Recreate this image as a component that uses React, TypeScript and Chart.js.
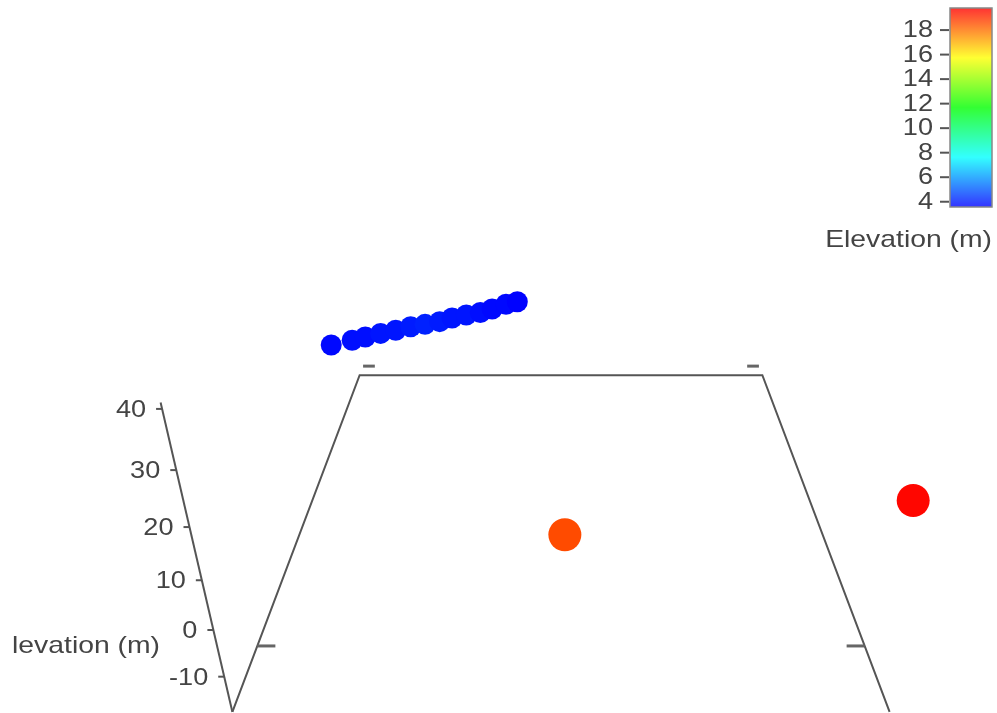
import React, { useEffect, useRef } from "react";
import { Chart, registerables } from "chart.js";

Chart.register(...registerables);

// ---------- data ----------
const easting = [-0.96, -0.88, -0.83, -0.77, -0.71, -0.65, -0.59, -0.53, -0.48, -0.42, -0.36, -0.31, -0.25, -0.2, 0.01, 0.95];
const northing = [0.57, 0.61, 0.64, 0.67, 0.7, 0.73, 0.75, 0.78, 0.82, 0.85, 0.88, 0.92, 0.97, 1.0, -1.0, -0.88];
const elevation = [3.7, 3.8, 3.8, 3.9, 3.9, 4.0, 4.1, 4.0, 3.9, 3.9, 3.8, 3.7, 3.7, 3.6, 18.6, 19.7];

const zTickVals = [-10, 0, 10, 20, 30, 40];
const yTickVals = [-0.74, 1.09];
const colorTickVals = [4, 6, 8, 10, 12, 14, 16, 18];

const xRange = [-0.96, 0.96];
const yRange = [-1, 1];
const zRange = [-18, 41];
const colorRange = [3.57, 19.8];

const zTitle = "Elevation (m)";
const colorTitle = "Elevation (m)";

// ---------- view / layout ----------
const W = 997;
const H = 713;
const CAM = { f: 954, pitch: (28.3 * Math.PI) / 180, cx: 561, cy: 356, dist: 2.961, height: 2.237, zScale: 0.01787 };
const FONT = '24px "Liberation Sans", Arial, sans-serif';
const TICK_STRETCH = 1.13;
const TITLE_STRETCH = 1.18;
const TEXT_COLOR = "#444";
const LINE_COLOR = "#555";

function project(x: number, y: number, z: number) {
  const s = Math.sin(CAM.pitch);
  const c = Math.cos(CAM.pitch);
  const h = (z - zRange[0]) * CAM.zScale;
  const w = y + CAM.dist;
  const zc = w * c + (CAM.height - h) * s;
  const yc = w * s + (h - CAM.height) * c;
  return { x: CAM.cx + (CAM.f * x) / zc, y: CAM.cy - (CAM.f * yc) / zc };
}

function frac(v: number) {
  return (v - colorRange[0]) / (colorRange[1] - colorRange[0]);
}
function colorFor(v: number, light = 50) {
  const f = Math.min(1, Math.max(0, frac(v)));
  return `hsl(${240 * (1 - f)}, 100%, ${light}%)`;
}

function drawText(ctx: CanvasRenderingContext2D, text: string, x: number, y: number, align: CanvasTextAlign, stretch = TICK_STRETCH) {
  ctx.save();
  ctx.translate(x, y);
  ctx.scale(stretch, 1);
  ctx.font = FONT;
  ctx.fillStyle = TEXT_COLOR;
  ctx.textAlign = align;
  ctx.textBaseline = "alphabetic";
  ctx.fillText(text, 0, 0);
  ctx.restore();
}

const decorPlugin = {
  id: "decor3d",
  afterDatasetsDraw(chart: any) {
    const ctx: CanvasRenderingContext2D = chart.ctx;
    const sx = chart.scales.x;
    const sy = chart.scales.y;
    const px = (p: { x: number; y: number }) => ({ x: sx.getPixelForValue(p.x), y: sy.getPixelForValue(p.y) });
    ctx.save();

    // z axis ticks + labels
    ctx.strokeStyle = LINE_COLOR;
    ctx.lineWidth = 2;
    zTickVals.forEach((z) => {
      const p = px(project(xRange[0], yRange[0], z));
      ctx.beginPath();
      ctx.moveTo(p.x - 6, p.y);
      ctx.lineTo(p.x, p.y);
      ctx.stroke();
      drawText(ctx, String(z), p.x - 16, p.y + 8, "right");
    });
    // z-axis title (its first letter falls outside the scene, as in the original)
    ctx.save();
    ctx.beginPath();
    ctx.rect(12, 600, 220, 80);
    ctx.clip();
    drawText(ctx, zTitle, 160, 653, "right", TITLE_STRETCH);
    ctx.restore();

    // y ticks on side edges (pointing inward)
    ctx.lineWidth = 3;
    ctx.strokeStyle = "#666";
    const len = 0.057;
    yTickVals.forEach((y) => {
      [xRange[0], xRange[1]].forEach((x) => {
        const dir = x < 0 ? 1 : -1;
        const a = px(project(x, y, zRange[0]));
        const b = px(project(x + dir * len, y, zRange[0]));
        ctx.beginPath();
        ctx.moveTo(a.x, a.y);
        ctx.lineTo(b.x, b.y);
        ctx.stroke();
      });
    });

    // colorbar
    const cbX0 = 950, cbX1 = 992, cbTop = 8, cbBot = 207;
    const grad = ctx.createLinearGradient(0, cbBot, 0, cbTop);
    for (let i = 0; i <= 12; i++) {
      const f = i / 12;
      grad.addColorStop(f, `hsl(${240 * (1 - f)}, 100%, 60%)`);
    }
    ctx.fillStyle = grad;
    ctx.fillRect(cbX0, cbTop, cbX1 - cbX0, cbBot - cbTop);
    ctx.strokeStyle = "#888";
    ctx.lineWidth = 1.5;
    ctx.strokeRect(cbX0, cbTop, cbX1 - cbX0, cbBot - cbTop);
    ctx.strokeStyle = LINE_COLOR;
    ctx.lineWidth = 2;
    colorTickVals.forEach((v) => {
      const yy = cbBot - frac(v) * (cbBot - cbTop);
      ctx.beginPath();
      ctx.moveTo(940, yy);
      ctx.lineTo(949, yy);
      ctx.stroke();
      drawText(ctx, String(v), 933, yy + 7, "right");
    });
    drawText(ctx, colorTitle, 992, 247, "right", TITLE_STRETCH);
    ctx.restore();
  },
};

export default function App() {
  const ref = useRef<HTMLCanvasElement | null>(null);
  useEffect(() => {
    const canvas = ref.current;
    if (!canvas) return;
    const floor = [
      project(xRange[0], yRange[0], zRange[0]),
      project(xRange[0], yRange[1], zRange[0]),
      project(xRange[1], yRange[1], zRange[0]),
      project(xRange[1], yRange[0], zRange[0]),
    ];
    const zAxis = [project(xRange[0], yRange[0], zRange[0]), project(xRange[0], yRange[0], zRange[1])];
    const pts = easting.map((x, i) => project(x, northing[i], elevation[i]));
    const colors = elevation.map((v) => colorFor(v));
    const radii = elevation.map((v) => (v > 10 ? 16.5 : 10.5));

    const chart = new Chart(canvas, {
      type: "scatter",
      data: {
        datasets: [
          { data: floor, showLine: true, borderColor: LINE_COLOR, borderWidth: 2, pointRadius: 0, fill: false, clip: false },
          { data: zAxis, showLine: true, borderColor: LINE_COLOR, borderWidth: 2, pointRadius: 0, fill: false, clip: false },
          {
            data: pts,
            pointRadius: radii,
            pointHoverRadius: radii,
            pointBackgroundColor: colors,
            pointBorderColor: colors,
            pointBorderWidth: 0,
            showLine: false,
            clip: false,
          },
        ],
      },
      options: {
        animation: false,
        responsive: false,
        events: [],
        layout: { padding: 0, autoPadding: false },
        scales: {
          x: { type: "linear", min: 0, max: W, display: false },
          y: { type: "linear", min: 0, max: H, reverse: true, display: false },
        },
        plugins: { legend: { display: false }, tooltip: { enabled: false } },
      },
      plugins: [decorPlugin],
    } as any);
    return () => chart.destroy();
  }, []);
  return (
    <canvas
      ref={ref}
      width={W}
      height={H}
      style={{ position: "fixed", left: 0, top: 0, display: "block", background: "#fff" }}
    />
  );
}
